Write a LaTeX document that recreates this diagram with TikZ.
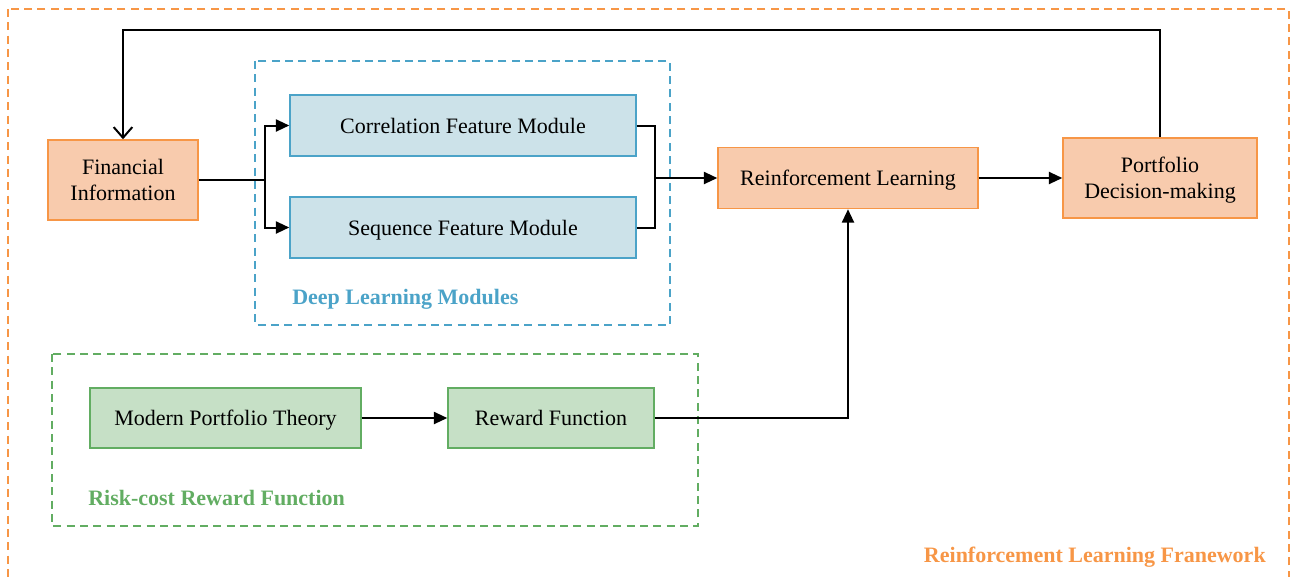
\documentclass[tikz,border=0pt]{standalone}
\usepackage{fontspec}
\setmainfont{Liberation Serif}
\usetikzlibrary{arrows.meta,positioning}
\definecolor{orB}{HTML}{F79646}
\definecolor{orF}{HTML}{F8CBAD}
\definecolor{blB}{HTML}{4BA3C8}
\definecolor{blF}{HTML}{CCE2E9}
\definecolor{grB}{HTML}{62AD62}
\definecolor{grF}{HTML}{C6E0C6}
\tikzset{
  box/.style={draw, line width=1.1pt, inner sep=0pt, align=center, text depth=0pt, font=\fontsize{16.5}{19.5}\selectfont},
  obox/.style={box, draw=orB, fill=orF},
  bbox/.style={box, draw=blB, fill=blF},
  gbox/.style={box, draw=grB, fill=grF},
  conn/.style={draw=black, line width=1.5pt},
  arr/.style={conn, -{Triangle[length=10pt,width=9pt]}},
  oarr/.style={conn, -{Straight Barb[length=8pt,width=14pt,line width=1.5pt]}},
  frame/.style={dashed, line width=1.5pt, dash pattern=on 6pt off 4pt},
  lbl/.style={font=\fontsize{16.5}{19.5}\selectfont\bfseries, anchor=base west, inner sep=0pt}
}
\begin{document}
\begin{tikzpicture}[x=0.75pt,y=-0.75pt]
\useasboundingbox (0,0) rectangle (1295,576);
% frames
\draw[frame, draw=orB] (8,9) rectangle (1289,600);
\draw[frame, draw=blB] (255,61) rectangle (670,325);
\draw[frame, draw=grB] (52,354) rectangle (698,526);
\node[lbl, text=blB] (dlm) at (292,304) {Deep Learning Modules};
\node[lbl, text=grB] (rcr) at (88,505) {Risk-cost Reward Function};
\node[lbl, text=orB, anchor=base east] (rlf) at (1266,562) {Reinforcement Learning Franework};
% nodes
\node[obox, minimum width=150*0.75pt, minimum height=80*0.75pt] (fin) at (123,180) {Financial\\Information};
\node[bbox, minimum width=346*0.75pt, minimum height=61*0.75pt] (cor) at (463,125.5) {Correlation Feature Module};
\node[bbox, minimum width=346*0.75pt, minimum height=61*0.75pt] (seq) at (463,227.5) {Sequence Feature Module};
\node[obox, minimum width=260*0.75pt, minimum height=61*0.75pt] (rl) at (848,178) {Reinforcement Learning};
\node[obox, minimum width=194*0.75pt, minimum height=80*0.75pt] (pd) at (1160,178) {Portfolio\\Decision-making};
\node[gbox, minimum width=271*0.75pt, minimum height=60*0.75pt] (mpt) at (225.5,418) {Modern Portfolio Theory};
\node[gbox, minimum width=206*0.75pt, minimum height=60*0.75pt] (rf) at (551,418) {Reward Function};
% coordinates
\coordinate (split) at (265,180);
\coordinate (merge) at (655,178);
\coordinate (top) at (0,30);
% connectors
\draw[conn] (fin.east) -- (fin.east -| split);
\draw[arr] (fin.east -| split) |- (cor.west);
\draw[arr] (fin.east -| split) |- (seq.west);
\draw[conn] (cor.east) -| (merge);
\draw[conn] (seq.east) -| (merge);
\draw[arr] (merge) -- (rl.west);
\draw[arr] (rl.east) -- (pd.west);
\draw[oarr] (pd.north) |- (top -| fin.north) -- (fin.north);
\draw[arr] (mpt.east) -- (rf.west);
\draw[arr] (rf.east) -| (rl.south);
\end{tikzpicture}
\end{document}
